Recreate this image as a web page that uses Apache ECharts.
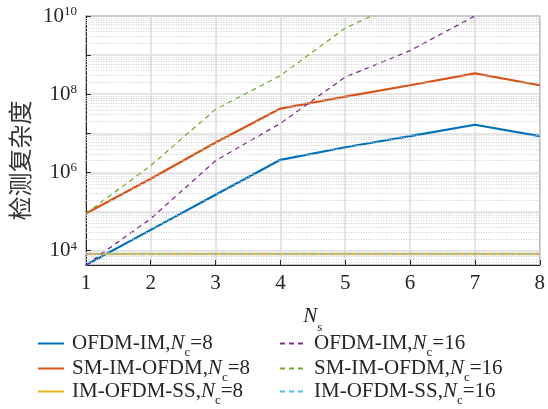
<!DOCTYPE html>
<html>
<head>
<meta charset="utf-8">
<script src="https://cdn.jsdelivr.net/npm/echarts@6/dist/echarts.min.js"></script>
<style>
  html, body { margin: 0; padding: 0; background: #fff; }
  #main { width: 548px; height: 409px; }
</style>
</head>
<body>
<div id="main"></div>
<script>
// N_s values on the x axis
var ns = [1, 2, 3, 4, 5, 6, 7, 8];

// detection complexity
var ofdmIm8    = [4.3e3, 3.4e4, 2.7e5, 2.1e6, 4.4e6, 8.5e6, 1.66e7, 8.5e6];
var smImOfdm8  = [8.9e4, 6.9e5, 5.8e6, 4.3e7, 8.7e7, 1.7e8, 3.4e8, 1.7e8];
var imOfdmSs8  = [8192, 8192, 8192, 8192, 8192, 8192, 8192, 8192];
var ofdmIm16   = [4.3e3, 6.6e4, 2.0e6, 1.8e7, 2.75e8, 1.3e9, 1.0e10, 6.3e10];
var smImOfdm16 = [8.9e4, 1.5e6, 4.1e7, 3.0e8, 4.9e9, 2.8e10, 1.6e11, 8e11];
var imOfdmSs16 = [8192, 8192, 8192, 8192, 8192, 8192, 8192, 8192];

var names8  = ['OFDM-IM,Nc=8', 'SM-IM-OFDM,Nc=8', 'IM-OFDM-SS,Nc=8'];
var names16 = ['OFDM-IM,Nc=16', 'SM-IM-OFDM,Nc=16', 'IM-OFDM-SS,Nc=16'];

var yMin = 4300, yMax = 1e10;

var serif = "'Liberation Serif', 'Times New Roman', serif";
var txt = '#262626';

function pairs(arr) {
    return ns.map(function (n, i) { return [n, arr[i]]; });
}

// minor log grid lines at 2..9 x 10^k
var minorLines = [];
for (var e = 3; e < 10; e++) {
    for (var k = 2; k <= 9; k++) {
        var v = k * Math.pow(10, e);
        if (v > yMin && v < yMax) minorLines.push({ yAxis: v });
    }
}

function mkSeries(name, arr, color, dashed) {
    return {
        name: name,
        type: 'line',
        data: pairs(arr),
        symbol: 'none',
        z: 3,
        color: color,
        lineStyle: dashed ? { width: 1.3, type: [5, 4], color: color } : { width: 2.2, color: color }
    };
}

var legendRich = {
    f: { fontSize: 21, fontFamily: serif, color: txt, lineHeight: 22, padding: [0, 0, 0, 3] },
    t: { fontSize: 21, fontFamily: serif, color: txt, lineHeight: 22 },
    i: { fontSize: 21, fontFamily: serif, color: txt, fontStyle: 'italic', lineHeight: 22 },
    s: { fontSize: 13, fontFamily: serif, color: txt, lineHeight: 13, padding: [18, 0, 0, 0] }
};

function legendText(name) {
    var p = name.split(',Nc=');
    return '{f|' + p[0] + ',}{i|N}{s|c}{t|=' + p[1] + '}';
}

// one legend block per entry so the rows sit where the figure has them
var legendTops = [323, 348, 371];
var legends = [];
[names8, names16].forEach(function (col, c) {
    col.forEach(function (nm, r) {
        legends.push({
            left: c === 0 ? 32 : 274,
            top: legendTops[r],
            itemWidth: 26, itemHeight: 14,
            itemStyle: { opacity: 0 },
            data: [nm],
            formatter: legendText,
            textStyle: { rich: legendRich }
        });
    });
});

var option = {
    animation: false,
    backgroundColor: '#fff',
    grid: {
        left: 82, right: 6, top: 16, bottom: 144,
        show: true, borderColor: txt, borderWidth: 1, backgroundColor: '#fff'
    },
    legend: legends,
    xAxis: {
        type: 'value',
        min: 1, max: 8, interval: 1,
        name: '{i|N}{s|s}',
        nameLocation: 'middle',
        nameGap: 27,
        nameTextStyle: {
            rich: {
                i: { fontSize: 21, fontFamily: serif, color: txt, fontStyle: 'italic', lineHeight: 22 },
                s: { fontSize: 13, fontFamily: serif, color: txt, lineHeight: 13, padding: [22, 0, 0, 0] }
            }
        },
        axisLine: { lineStyle: { color: txt, width: 1 } },
        axisTick: { inside: true, length: 5, lineStyle: { color: txt } },
        axisLabel: { fontSize: 21, fontFamily: serif, color: txt, margin: 8 },
        splitLine: { show: true, lineStyle: { color: '#dcdcdc', width: 1.5 } }
    },
    yAxis: {
        type: 'log',
        logBase: 10,
        min: yMin, max: yMax,
        name: '检测复杂度',
        nameLocation: 'middle',
        nameGap: 50,
        nameTextStyle: {
            fontSize: 24, fontFamily: "'Noto Sans CJK SC', sans-serif", color: '#333',
            padding: [0, 40, 0, 0]
        },
        axisLine: { show: true, lineStyle: { color: txt, width: 1 } },
        axisTick: { show: true, inside: true, length: 5, lineStyle: { color: txt } },
        axisLabel: {
            margin: 9,
            formatter: function (v) {
                var e = Math.log10(v);
                var r = Math.round(e);
                if (Math.abs(e - r) > 1e-6 || r % 2 !== 0) return '';
                return '{b|10}{p|' + r + '}';
            },
            rich: {
                b: { fontSize: 21, fontFamily: serif, color: txt, lineHeight: 20 },
                p: { fontSize: 13, fontFamily: serif, color: txt, lineHeight: 13, padding: [0, 0, 9, 0] }
            }
        },
        splitLine: { show: true, lineStyle: { color: '#dcdcdc', width: 1.5 } }
    },
    series: [
        {
            name: 'minor-grid',
            type: 'line',
            data: [],
            z: 1,
            silent: true,
            markLine: {
                silent: true,
                symbol: 'none',
                label: { show: false },
                lineStyle: { type: [1, 1.5], color: '#cfcfcf', width: 1 },
                emphasis: { disabled: true },
                data: minorLines
            }
        },
        mkSeries('OFDM-IM,Nc=8', ofdmIm8, '#0072BD', false),
        mkSeries('SM-IM-OFDM,Nc=8', smImOfdm8, '#D95319', false),
        mkSeries('IM-OFDM-SS,Nc=8', imOfdmSs8, '#EDB120', false),
        mkSeries('OFDM-IM,Nc=16', ofdmIm16, '#7E2F8E', true),
        mkSeries('SM-IM-OFDM,Nc=16', smImOfdm16, '#77AC30', true),
        mkSeries('IM-OFDM-SS,Nc=16', imOfdmSs16, '#4DBEEE', true)
    ]
};

var myChart = echarts.init(document.getElementById('main'));
myChart.setOption(option);
</script>
</body>
</html>
